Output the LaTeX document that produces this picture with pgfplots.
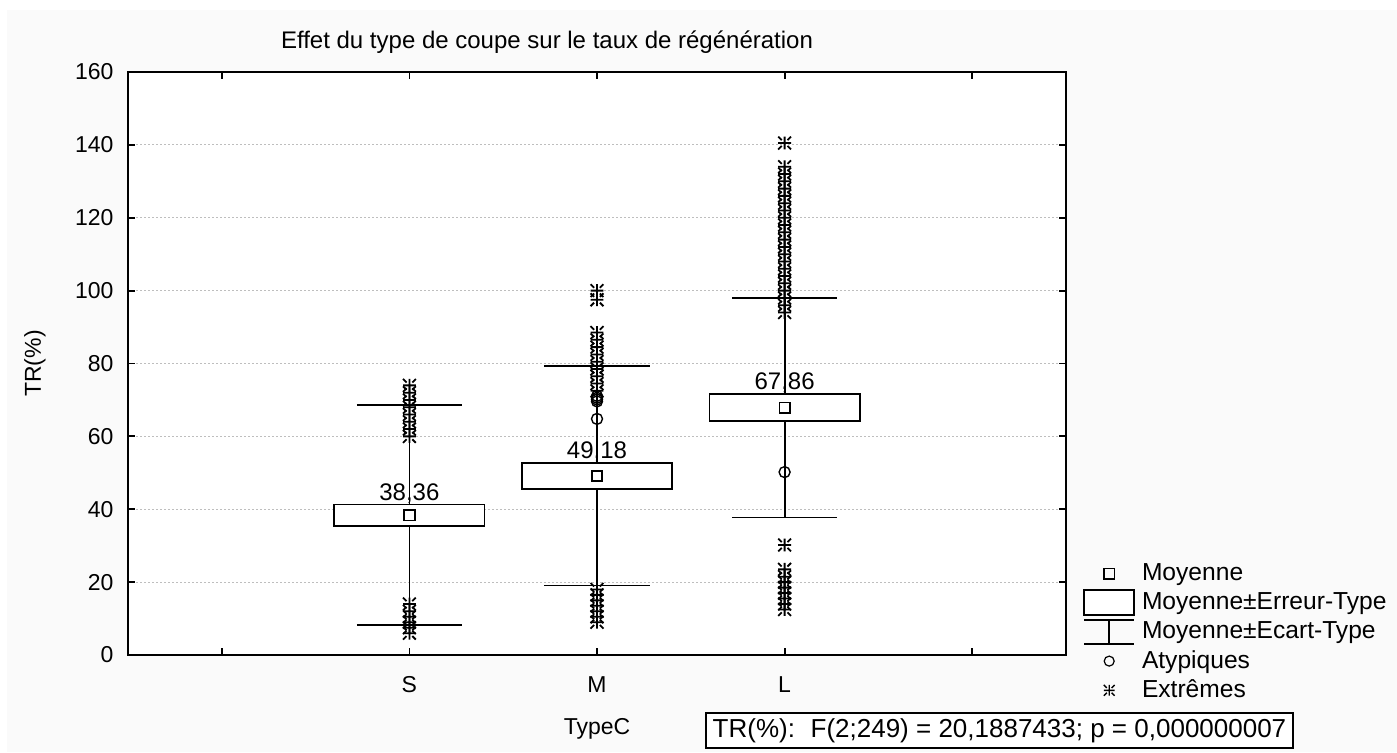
\documentclass[border=0pt]{standalone}
\usepackage{fontspec}
\setmainfont{Liberation Sans}
\usepackage{pgfplots}
\pgfplotsset{compat=1.18}
\definecolor{bggray}{RGB}{250,250,250}
\definecolor{gridgray}{RGB}{190,190,190}
\pgfdeclareplotmark{extreme}{%
  \pgfpathmoveto{\pgfqpoint{0pt}{-\pgfplotmarksize}}\pgfpathlineto{\pgfqpoint{0pt}{\pgfplotmarksize}}%
  \pgfpathmoveto{\pgfqpoint{-\pgfplotmarksize}{0pt}}\pgfpathlineto{\pgfqpoint{\pgfplotmarksize}{0pt}}%
  \pgfpathmoveto{\pgfqpoint{.45\pgfplotmarksize}{.45\pgfplotmarksize}}\pgfpathlineto{\pgfqpoint{\pgfplotmarksize}{\pgfplotmarksize}}%
  \pgfpathmoveto{\pgfqpoint{-.45\pgfplotmarksize}{.45\pgfplotmarksize}}\pgfpathlineto{\pgfqpoint{-\pgfplotmarksize}{\pgfplotmarksize}}%
  \pgfpathmoveto{\pgfqpoint{.45\pgfplotmarksize}{-.45\pgfplotmarksize}}\pgfpathlineto{\pgfqpoint{\pgfplotmarksize}{-\pgfplotmarksize}}%
  \pgfpathmoveto{\pgfqpoint{-.45\pgfplotmarksize}{-.45\pgfplotmarksize}}\pgfpathlineto{\pgfqpoint{-\pgfplotmarksize}{-\pgfplotmarksize}}%
  \pgfusepathqstroke}
\newcommand{\fs}{\fontsize{11.5}{13}\selectfont}
\newcommand{\fl}{\fontsize{12.3}{14}\selectfont}
\begin{document}
\begin{tikzpicture}
\useasboundingbox (-64pt,-48.5pt) rectangle (634.5pt,327.5pt);
\fill[bggray] (-60.5pt,-48.5pt) rectangle (634.5pt,322.5pt);
\begin{axis}[
  width=469pt, height=291.5pt, scale only axis,
  xmin=0.5, xmax=5.5, ymin=0, ymax=160,
  xtick={1,2,3,4,5}, xticklabels={,S,M,L,},
  ytick={0,20,...,160},
  tick align=inside, xtick pos=both, ytick pos=both,
  xticklabel pos=lower, yticklabel pos=left,
  major tick length=3.5pt, tick style={black, line width=0.9pt},
  axis line style={line width=1.1pt},
  ymajorgrids, grid style={gridgray, dash pattern=on 1pt off 1pt, line width=0.5pt},
  axis background/.style={fill=white},
  /pgf/number format/assume math mode=true,
  tick label style={font=\fs},
  xticklabel style={anchor=center, yshift=-15pt},
  yticklabel style={xshift=-3.7pt},
  xlabel={TypeC}, ylabel={TR(\%)},
  every axis x label/.style={at={(axis description cs:0.5,0)}, anchor=center, yshift=-37pt, font=\fs},
  every axis y label/.style={at={(axis description cs:0,0.5)}, anchor=center, rotate=90, yshift=46.5pt, font=\fs},
  legend style={draw=none, fill=none, at={(axis description cs:1,0)}, anchor=north west,
    xshift=8.5pt, yshift=48.25pt, font=\fl, inner sep=0pt, row sep=0pt,
    nodes={inner sep=0pt, minimum height=14.6pt},
    /tikz/every odd column/.append style={column sep=3.5pt}},
  legend cell align=left,
]
% whiskers: mean +/- SD
\addplot[black, line width=0.9pt, forget plot] coordinates {(2,8.16) (2,68.56)};
\addplot[black, line width=0.9pt, forget plot] coordinates {(3,19.08) (3,79.28)};
\addplot[black, line width=0.9pt, forget plot] coordinates {(4,37.76) (4,97.96)};
\addplot[black, line width=0.9pt, forget plot] coordinates {(1.72,8.16) (2.28,8.16)};
\addplot[black, line width=0.9pt, forget plot] coordinates {(1.72,68.56) (2.28,68.56)};
\addplot[black, line width=0.9pt, forget plot] coordinates {(2.72,19.08) (3.28,19.08)};
\addplot[black, line width=0.9pt, forget plot] coordinates {(2.72,79.28) (3.28,79.28)};
\addplot[black, line width=0.9pt, forget plot] coordinates {(3.72,37.76) (4.28,37.76)};
\addplot[black, line width=0.9pt, forget plot] coordinates {(3.72,97.96) (4.28,97.96)};
% boxes: mean +/- SE
\addplot[black, line width=0.9pt, fill=white, forget plot] coordinates {(1.6,35.41) (2.4,35.41) (2.4,41.31) (1.6,41.31) (1.6,35.41)} -- cycle;
\addplot[black, line width=0.9pt, fill=white, forget plot] coordinates {(2.6,45.58) (3.4,45.58) (3.4,52.78) (2.6,52.78) (2.6,45.58)} -- cycle;
\addplot[black, line width=0.9pt, fill=white, forget plot] coordinates {(3.6,64.16) (4.4,64.16) (4.4,71.56) (3.6,71.56) (3.6,64.16)} -- cycle;
% means
\addplot[only marks, mark=square, mark size=2.6pt, black, line width=0.9pt,
  legend image code/.code={\draw[black, line width=0.8pt, mark=square, mark size=2.6pt, only marks] plot coordinates {(12.5pt,0pt)};}]
  coordinates {(2,38.36) (3,49.18) (4,67.86)};
\addlegendentry{Moyenne}
\addlegendimage{legend image code/.code={\draw[black, line width=0.8pt, fill=white] (0pt,-6.25pt) rectangle (25pt,6.25pt);}}
\addlegendentry{Moyenne±Erreur-Type}
\addlegendimage{legend image code/.code={\draw[black, line width=0.8pt] (0pt,6pt)--(25pt,6pt) (12.5pt,6pt)--(12.5pt,-6pt) (0pt,-6pt)--(25pt,-6pt);}}
\addlegendentry{Moyenne±Ecart-Type}
% outliers
\addplot[only marks, mark=o, mark size=2.75pt, black, line width=0.7pt, mark options={fill=white},
  legend image code/.code={\draw[black, line width=0.6pt, mark=o, mark size=2.5pt, only marks] plot coordinates {(12.5pt,0pt)};}]
  coordinates {(3,64.8) (3,69.6) (3,70.1) (3,70.6) (3,71.1) (4,50.2)};
\addlegendentry{Atypiques}
% extremes
\addplot[only marks, mark=extreme, mark size=3.2pt, black, line width=0.9pt,
  legend image code/.code={\draw[black, line width=0.7pt, mark=extreme, mark size=2.7pt, only marks] plot coordinates {(12.5pt,0pt)};}]
  coordinates {
  (2,60)(2,62)(2,64)(2,66)(2,68)(2,70)(2,72)(2,74)
  (2,6)(2,7.5)(2,9)(2,10.5)(2,12)(2,14)
  (3,97.5)(3,100)
  (3,72.5)(3,74.5)(3,76.5)(3,78.5)(3,80.5)(3,82.5)(3,84.5)(3,86.5)(3,88.5)
  (3,9)(3,10.5)(3,12)(3,13.5)(3,15)(3,16.5)(3,18)
  (4,140.5)
  (4,94)(4,96)(4,98)(4,100)(4,102)(4,104)(4,106)(4,108)(4,110)(4,112)(4,114)
  (4,116)(4,118)(4,120)(4,122)(4,124)(4,126)(4,128)(4,130)(4,132)(4,134)
  (4,30.2)
  (4,12.5)(4,14)(4,15.5)(4,17)(4,18.5)(4,20)(4,21.5)(4,23.5)
  };
\addlegendentry{Extrêmes}
\node[font=\fontsize{12}{14}\selectfont, anchor=south, inner sep=0.5pt] at (axis cs:2,41.31) {38,36};
\node[font=\fontsize{12}{14}\selectfont, anchor=south, inner sep=0.5pt] at (axis cs:3,52.78) {49,18};
\node[font=\fontsize{12}{14}\selectfont, anchor=south, inner sep=0.5pt] at (axis cs:4,71.56) {67,86};
\end{axis}
\node[font=\fontsize{12}{14}\selectfont] at (209.5pt,306.5pt) {Effet du type de coupe sur le taux de régénération};
\node[draw, line width=0.8pt, fill=white, minimum width=293.5pt, minimum height=17.5pt, inner sep=0pt, font=\fontsize{13}{15}\selectfont] at (435.75pt,-37.75pt) {TR(\%):\hspace{0.6em}F(2;249) = 20,1887433; p = 0,000000007};
\end{tikzpicture}
\end{document}
